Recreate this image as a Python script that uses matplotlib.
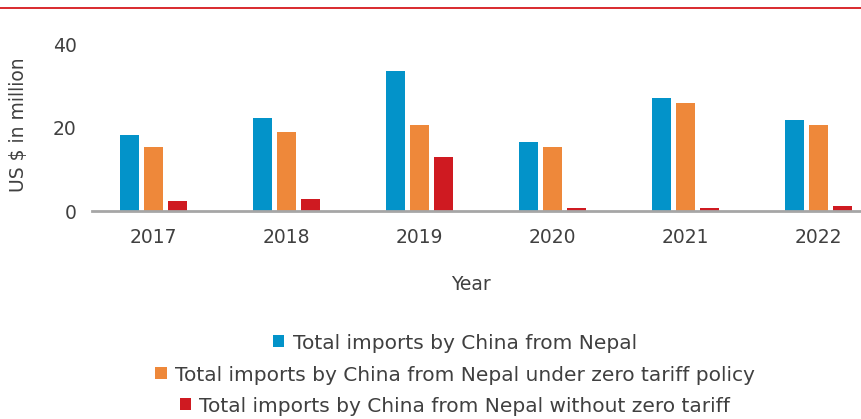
import matplotlib
matplotlib.use("Agg")
import matplotlib.pyplot as plt
from matplotlib.lines import Line2D
import numpy as np

years = ["2017", "2018", "2019", "2020", "2021", "2022"]
total_imports = [18.2, 22.2, 33.6, 16.5, 27.0, 21.7]
zero_tariff = [15.3, 18.9, 20.6, 15.3, 25.8, 20.6]
without_zero_tariff = [2.4, 2.8, 12.9, 0.7, 0.7, 1.1]

labels = ["Total imports by China from Nepal",
          "Total imports by China from Nepal under zero tariff policy",
          "Total imports by China from Nepal without zero tariff"]
colors = ["#0393c9", "#ee883a", "#cf1a21"]

plt.rcParams["font.family"] = ["DejaVu Sans"]
text_color = "#404040"

fig = plt.figure(figsize=(8.61, 4.19), dpi=100)
ax = fig.add_axes([92 / 861, 1 - 211 / 419, 1 - 92 / 861, 167 / 419])

x = np.arange(len(years))
w = 0.143
step = 0.18
bars = []
for k, vals in enumerate([total_imports, zero_tariff, without_zero_tariff]):
    b = ax.bar(x + (k - 1) * step, vals, width=w, color=colors[k], label=labels[k], zorder=2)
    bars.append(b)

ax.set_xlim(-0.46, 5.32)
ax.set_ylim(0, 40)
ax.set_yticks([0, 20, 40])
ax.set_xticks(x)
ax.set_xticklabels(years)
ax.tick_params(length=0, labelsize=13.5, colors=text_color)
ax.tick_params(axis="x", pad=12)
ax.tick_params(axis="y", pad=11)
for s in ["top", "right", "left"]:
    ax.spines[s].set_visible(False)
ax.spines["bottom"].set_color("#a6a6a6")
ax.spines["bottom"].set_linewidth(2)
ax.spines["bottom"].set_zorder(3)

ax.set_ylabel("US $ in million", fontsize=13.5, color=text_color)
ax.yaxis.set_label_coords(-0.083, 0.515)
ax.set_xlabel("Year", fontsize=13.5, color=text_color)
ax.xaxis.set_label_coords(0.493, -0.385)

# each legend entry centred on its own row
ys = [343, 375, 406]
for b, lab, yy in zip(bars, labels, ys):
    fig.legend([b], [lab], loc="center", bbox_to_anchor=(455 / 861, 1 - yy / 419),
               frameon=False, fontsize=14.5, handlelength=0.55, handleheight=0.55,
               handletextpad=0.4, labelcolor=text_color, borderpad=0)

fig.add_artist(Line2D([0, 1], [1 - 8 / 419, 1 - 8 / 419], color="#d7191c", lw=1.3,
                      transform=fig.transFigure))

fig.savefig("out.png", dpi=100)
